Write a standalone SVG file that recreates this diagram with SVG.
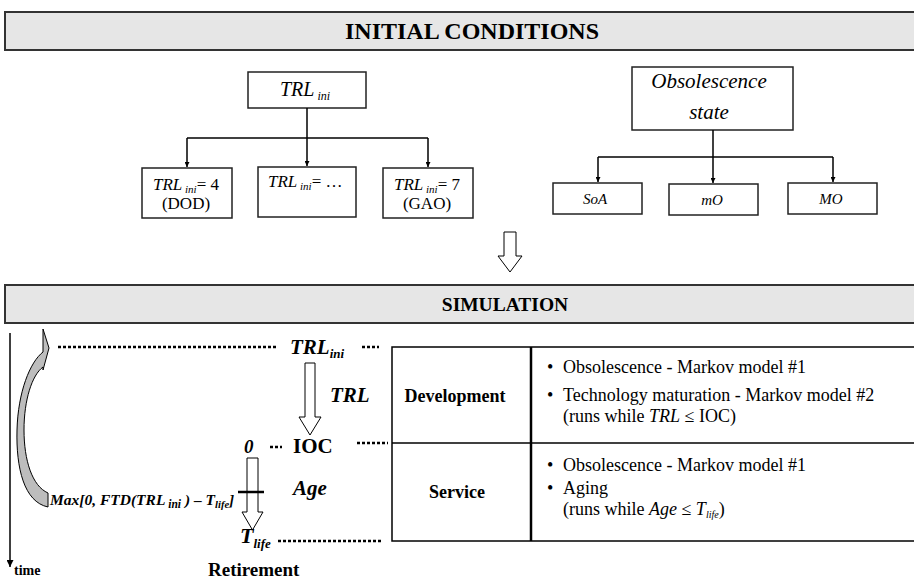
<svg xmlns="http://www.w3.org/2000/svg" width="914" height="580" viewBox="0 0 914 580" font-family="Liberation Serif, Times New Roman, serif">
<style>
text{font-family:"Liberation Serif", "Times New Roman", serif;fill:#000}
.b{font-weight:bold}
.i{font-style:italic}
.box{fill:#fff;stroke:#222;stroke-width:1.5}
.bar{fill:#e6e6e6;stroke:#333;stroke-width:2}
.ln{stroke:#000;stroke-width:1.5;fill:none}
.dot{stroke:#000;stroke-width:2.5;stroke-dasharray:3 2;fill:none}
.hol{fill:#fff;stroke:#000;stroke-width:1}
.cell{font-size:18px}
</style>
<defs>
<marker id="ah" viewBox="0 0 10 10" refX="10" refY="5" markerWidth="5" markerHeight="5" orient="auto" markerUnits="userSpaceOnUse">
<path d="M0,0 L10,5 L0,10 Z" fill="#000"/>
</marker>
<marker id="ah2" viewBox="0 0 10 10" refX="10" refY="5" markerWidth="7" markerHeight="7" orient="auto" markerUnits="userSpaceOnUse">
<path d="M0,0 L10,5 L0,10 Z" fill="#000"/>
</marker>
</defs>

<g id="initial-bar">
<rect class="bar" x="5" y="12" width="915" height="38"/>
<text class="b" x="472" y="39" font-size="24" text-anchor="middle">INITIAL CONDITIONS</text>
</g>

<g id="trl-ini">
<rect class="box" x="248" y="72" width="118" height="36"/>
<text class="i" x="280" y="96" font-size="20">TRL<tspan font-size="12" dy="4"> ini</tspan></text>
</g>
<g id="trl4">
<rect class="box" x="142" y="168" width="90" height="50"/>
<text x="153" y="190" font-size="17"><tspan font-style="italic">TRL</tspan><tspan font-style="italic" font-size="11" dy="3"> ini</tspan><tspan dy="-3">= 4</tspan></text>
<text x="186" y="209" font-size="17" text-anchor="middle">(DOD)</text>
</g>
<g id="trldots">
<rect class="box" x="258" y="167" width="98" height="50"/>
<text x="268" y="187" font-size="17"><tspan font-style="italic">TRL</tspan><tspan font-style="italic" font-size="11" dy="3"> ini</tspan><tspan dy="-3">= …</tspan></text>
</g>
<g id="trl7">
<rect class="box" x="383" y="168" width="90" height="50"/>
<text x="394" y="190" font-size="17"><tspan font-style="italic">TRL</tspan><tspan font-style="italic" font-size="11" dy="3"> ini</tspan><tspan dy="-3">= 7</tspan></text>
<text x="427" y="209" font-size="17" text-anchor="middle">(GAO)</text>
</g>

<g id="obs-state">
<rect class="box" x="632" y="67" width="161" height="63"/>
<text class="i" x="709" y="88" font-size="21" text-anchor="middle">Obsolescence</text>
<text class="i" x="709" y="119" font-size="21" text-anchor="middle">state</text>
</g>
<g id="soa">
<rect class="box" x="553" y="183" width="89" height="31"/>
<text class="i" x="595" y="204" font-size="15" text-anchor="middle">SoA</text>
</g>
<g id="mo-minor">
<rect class="box" x="669" y="184" width="89" height="31"/>
<text class="i" x="712" y="205" font-size="15" text-anchor="middle">mO</text>
</g>
<g id="mo-major">
<rect class="box" x="788" y="183" width="89" height="31"/>
<text class="i" x="831" y="204" font-size="15" text-anchor="middle">MO</text>
</g>

<g id="simulation-bar">
<rect class="bar" x="5" y="285" width="915" height="38"/>
<text class="b" x="505" y="311" font-size="19.5" text-anchor="middle">SIMULATION</text>
</g>

<g id="table">
<rect x="392" y="347" width="530" height="194" fill="#fff" stroke="#000" stroke-width="1.5"/>
<path d="M392,443 H914" stroke="#000" stroke-width="1.5"/>
<path d="M531,347 V541" stroke="#000" stroke-width="2.5"/>
</g>
<g id="development">
<text class="b cell" x="455" y="402" text-anchor="middle">Development</text>
<text class="cell" x="547" y="373">•</text>
<text class="cell" x="563" y="373">Obsolescence - Markov model #1</text>
<text class="cell" x="547" y="401">•</text>
<text class="cell" x="563" y="401">Technology maturation - Markov model #2</text>
<text class="cell" x="563" y="422">(runs while  <tspan font-style="italic">TRL</tspan> ≤ IOC)</text>
</g>
<g id="service">
<text class="b cell" x="457" y="498" text-anchor="middle">Service</text>
<text class="cell" x="547" y="471">•</text>
<text class="cell" x="563" y="471">Obsolescence - Markov model #1</text>
<text class="cell" x="547" y="494">•</text>
<text class="cell" x="563" y="494">Aging</text>
<text class="cell" x="563" y="515">(runs while  <tspan font-style="italic">Age</tspan>  ≤ <tspan font-style="italic">T</tspan><tspan font-style="italic" font-size="10" dy="3">life</tspan><tspan dy="-3">)</tspan></text>
</g>

<g id="connectors">
<path class="ln" d="M307,108 V138"/>
<path class="ln" d="M187,138 H428"/>
<path class="ln" d="M187,138 V167" marker-end="url(#ah)"/>
<path class="ln" d="M307,138 V166" marker-end="url(#ah)"/>
<path class="ln" d="M428,138 V167" marker-end="url(#ah)"/>
<path class="ln" d="M713,130 V157"/>
<path class="ln" d="M598,157 H833"/>
<path class="ln" d="M598,157 V182" marker-end="url(#ah)"/>
<path class="ln" d="M713,157 V183" marker-end="url(#ah)"/>
<path class="ln" d="M833,157 V182" marker-end="url(#ah)"/>
<path class="hol" d="M504,232 H516 V256 H522 L510,272 L498,256 H504 Z"/>
<path class="ln" d="M10,333 V567" marker-end="url(#ah2)"/>
<path d="M48,507 C 24,502 16,468 17,430 C 18,392 30,362 43,352 L43,329 L49,348 L43,370 L43,367 C 32,375 24,400 24,430 C 24,460 32,486 48,493 Z" fill="#bdbdbd" stroke="#000" stroke-width="1"/>
<path class="dot" d="M58,347 H277"/>
<path class="dot" d="M362,347 H379"/>
<path class="dot" d="M270,447 H282"/>
<path class="dot" d="M357,443 H388"/>
<path class="dot" d="M278,541 H382"/>
<path class="hol" d="M305,363 H315 V417 H321 L310,435 L299,417 H305 Z"/>
<path class="hol" d="M247,458 H258 V512 H263 L252.5,530 L242,512 H247 Z"/>
<path d="M238,492 H264" stroke="#000" stroke-width="2.5"/>
</g>

<g id="timeline-labels">
<text class="b i" x="290" y="354" font-size="21">TRL<tspan font-size="13" dy="4">ini</tspan></text>
<text class="b i" x="330" y="402" font-size="21">TRL</text>
<text class="b i" x="244" y="453" font-size="19">0</text>
<text class="b" x="293" y="453" font-size="21">IOC</text>
<text class="b i" x="293" y="495" font-size="21">Age</text>
<text class="b i" x="50" y="505" font-size="15.5">Max[0, FTD(TRL<tspan font-size="11.5" dy="3"> ini</tspan><tspan dy="-3"> ) – T</tspan><tspan font-size="10.5" dy="3">life</tspan><tspan dy="-3">]</tspan></text>
<text class="b i" x="240" y="543" font-size="22">T<tspan font-size="13" dy="5">life</tspan></text>
<text class="b" x="14" y="575" font-size="14">time</text>
<text class="b" x="208" y="576" font-size="19">Retirement</text>
</g>
</svg>
